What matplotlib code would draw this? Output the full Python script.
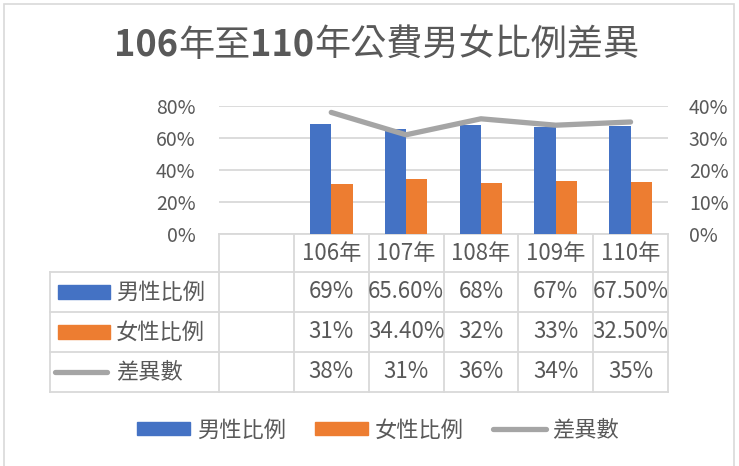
import numpy as np
import matplotlib.pyplot as plt
from matplotlib.transforms import blended_transform_factory
from matplotlib.patches import Rectangle
from matplotlib.lines import Line2D

plt.rcParams['font.family'] = ['Noto Sans CJK TC', 'DejaVu Sans']

# data
years = ['106年', '107年', '108年', '109年', '110年']
male = [69, 65.6, 68, 67, 67.5]
female = [31, 34.4, 32, 33, 32.5]
diff = [38, 31, 36, 34, 35]
male_txt = ['69%', '65.60%', '68%', '67%', '67.50%']
female_txt = ['31%', '34.40%', '32%', '33%', '32.50%']
diff_txt = ['38%', '31%', '36%', '34%', '35%']
series_names = ['男性比例', '女性比例', '差異數']

blue, orange, grey = '#4472C4', '#ED7D31', '#A5A5A5'
txt_c = '#595959'
grid_c = '#D9D9D9'

W, H = 739, 466
fx = lambda px: px / W
fy = lambda py: 1 - py / H

fig = plt.figure(figsize=(W / 100, H / 100), dpi=100)
fig.add_artist(Rectangle((fx(4), fy(480)), fx(730), fy(4) - fy(480), transform=fig.transFigure,
                         fill=False, ec='#D9D9D9', lw=1.2))

ax = fig.add_axes([fx(219), fy(234), fx(668) - fx(219), fy(106) - fy(234)])
ax2 = ax.twinx()

# first category is an empty slot
x = np.arange(1, len(years) + 1)
bw = 0.284
ax.bar(x - bw / 2, male, bw, color=blue, zorder=3)
ax.bar(x + bw / 2, female, bw, color=orange, zorder=3)
ax2.plot(x, diff, color=grey, lw=3.8, solid_capstyle='round', solid_joinstyle='round', zorder=4)

ax.set_xlim(-0.5, len(years) + 0.5)
ax.set_ylim(0, 80)
ax2.set_ylim(0, 40)
ax.set_yticks([0, 20, 40, 60, 80])
ax2.set_yticks([0, 10, 20, 30, 40])
ax.set_yticklabels([f'{v}%' for v in [0, 20, 40, 60, 80]])
ax2.set_yticklabels([f'{v}%' for v in [0, 10, 20, 30, 40]])
ax.yaxis.grid(True, color=grid_c, lw=1.3, zorder=0)
ax.set_xticks([])
for a in (ax, ax2):
    for s in a.spines.values():
        s.set_visible(False)
    a.tick_params(axis='y', length=0, labelsize=14, labelcolor=txt_c)
ax.tick_params(axis='y', pad=17)
ax2.tick_params(axis='y', pad=15)

# data table under the axis
tr = blended_transform_factory(ax.transData, fig.transFigure)
tb = dict(color=grid_c, lw=1.3, clip_on=False)
rows_y = [234, 272, 312, 352, 392]
for k in range(len(years) + 2):
    xb = k - 0.5
    ax.plot([xb, xb], [fy(234), fy(392)], transform=tr, **tb)
ax.plot([-0.5, len(years) + 0.5], [fy(234), fy(234)], transform=tr, **tb)
for yy in rows_y[1:]:
    fig.add_artist(Line2D([fx(50), fx(668)], [fy(yy), fy(yy)], transform=fig.transFigure, color=grid_c, lw=1.3))
fig.add_artist(Line2D([fx(50), fx(50)], [fy(272), fy(392)], transform=fig.transFigure, color=grid_c, lw=1.3))

tfs = 16
for i, yl in enumerate(years):
    ax.text(x[i], fy(253), yl, transform=tr, ha='center', va='center', fontsize=tfs, color=txt_c)
for r, vals in enumerate([male_txt, female_txt, diff_txt]):
    yc = (rows_y[r + 1] + rows_y[r + 2]) / 2
    for i, v in enumerate(vals):
        ax.text(x[i], fy(yc), v, transform=tr, ha='center', va='center', fontsize=tfs, color=txt_c)
    fig.text(fx(116), fy(yc), series_names[r], ha='left', va='center', fontsize=tfs, color=txt_c)
    if r < 2:
        fig.add_artist(Rectangle((fx(58), fy(yc + 7)), fx(110) - fx(58), 14 / H,
                                 transform=fig.transFigure, color=[blue, orange][r]))
    else:
        fig.add_artist(Line2D([fx(55), fx(107)], [fy(yc), fy(yc)], transform=fig.transFigure,
                              color=grey, lw=3.8, solid_capstyle='round'))

# legend
handles = [Rectangle((0, 0), 1, 1, color=blue), Rectangle((0, 0), 1, 1, color=orange),
           Line2D([0], [0], color=grey, lw=3.8, solid_capstyle='round')]
fig.legend(handles, series_names, loc='center', bbox_to_anchor=(fx(378), fy(430)), ncol=3,
           frameon=False, fontsize=tfs, labelcolor=txt_c, handlelength=2.4, handleheight=0.55,
           handletextpad=0.3, columnspacing=1.3)

# title: digits bold, CJK regular, pieces chained left to right
parts = [('106', 'bold'), ('年至', 'normal'), ('110', 'bold'), ('年公費男女比例差異', 'normal')]
prev = ax.annotate(parts[0][0], xy=(fx(114), fy(64)), xycoords='figure fraction', fontsize=26,
                   weight=parts[0][1], color=txt_c, ha='left', va='bottom', annotation_clip=False)
for s, w in parts[1:]:
    prev = ax.annotate(s, xy=(1, 0), xycoords=prev, fontsize=26, weight=w, color=txt_c,
                       ha='left', va='bottom', annotation_clip=False)

plt.savefig('out.png', dpi=100)
